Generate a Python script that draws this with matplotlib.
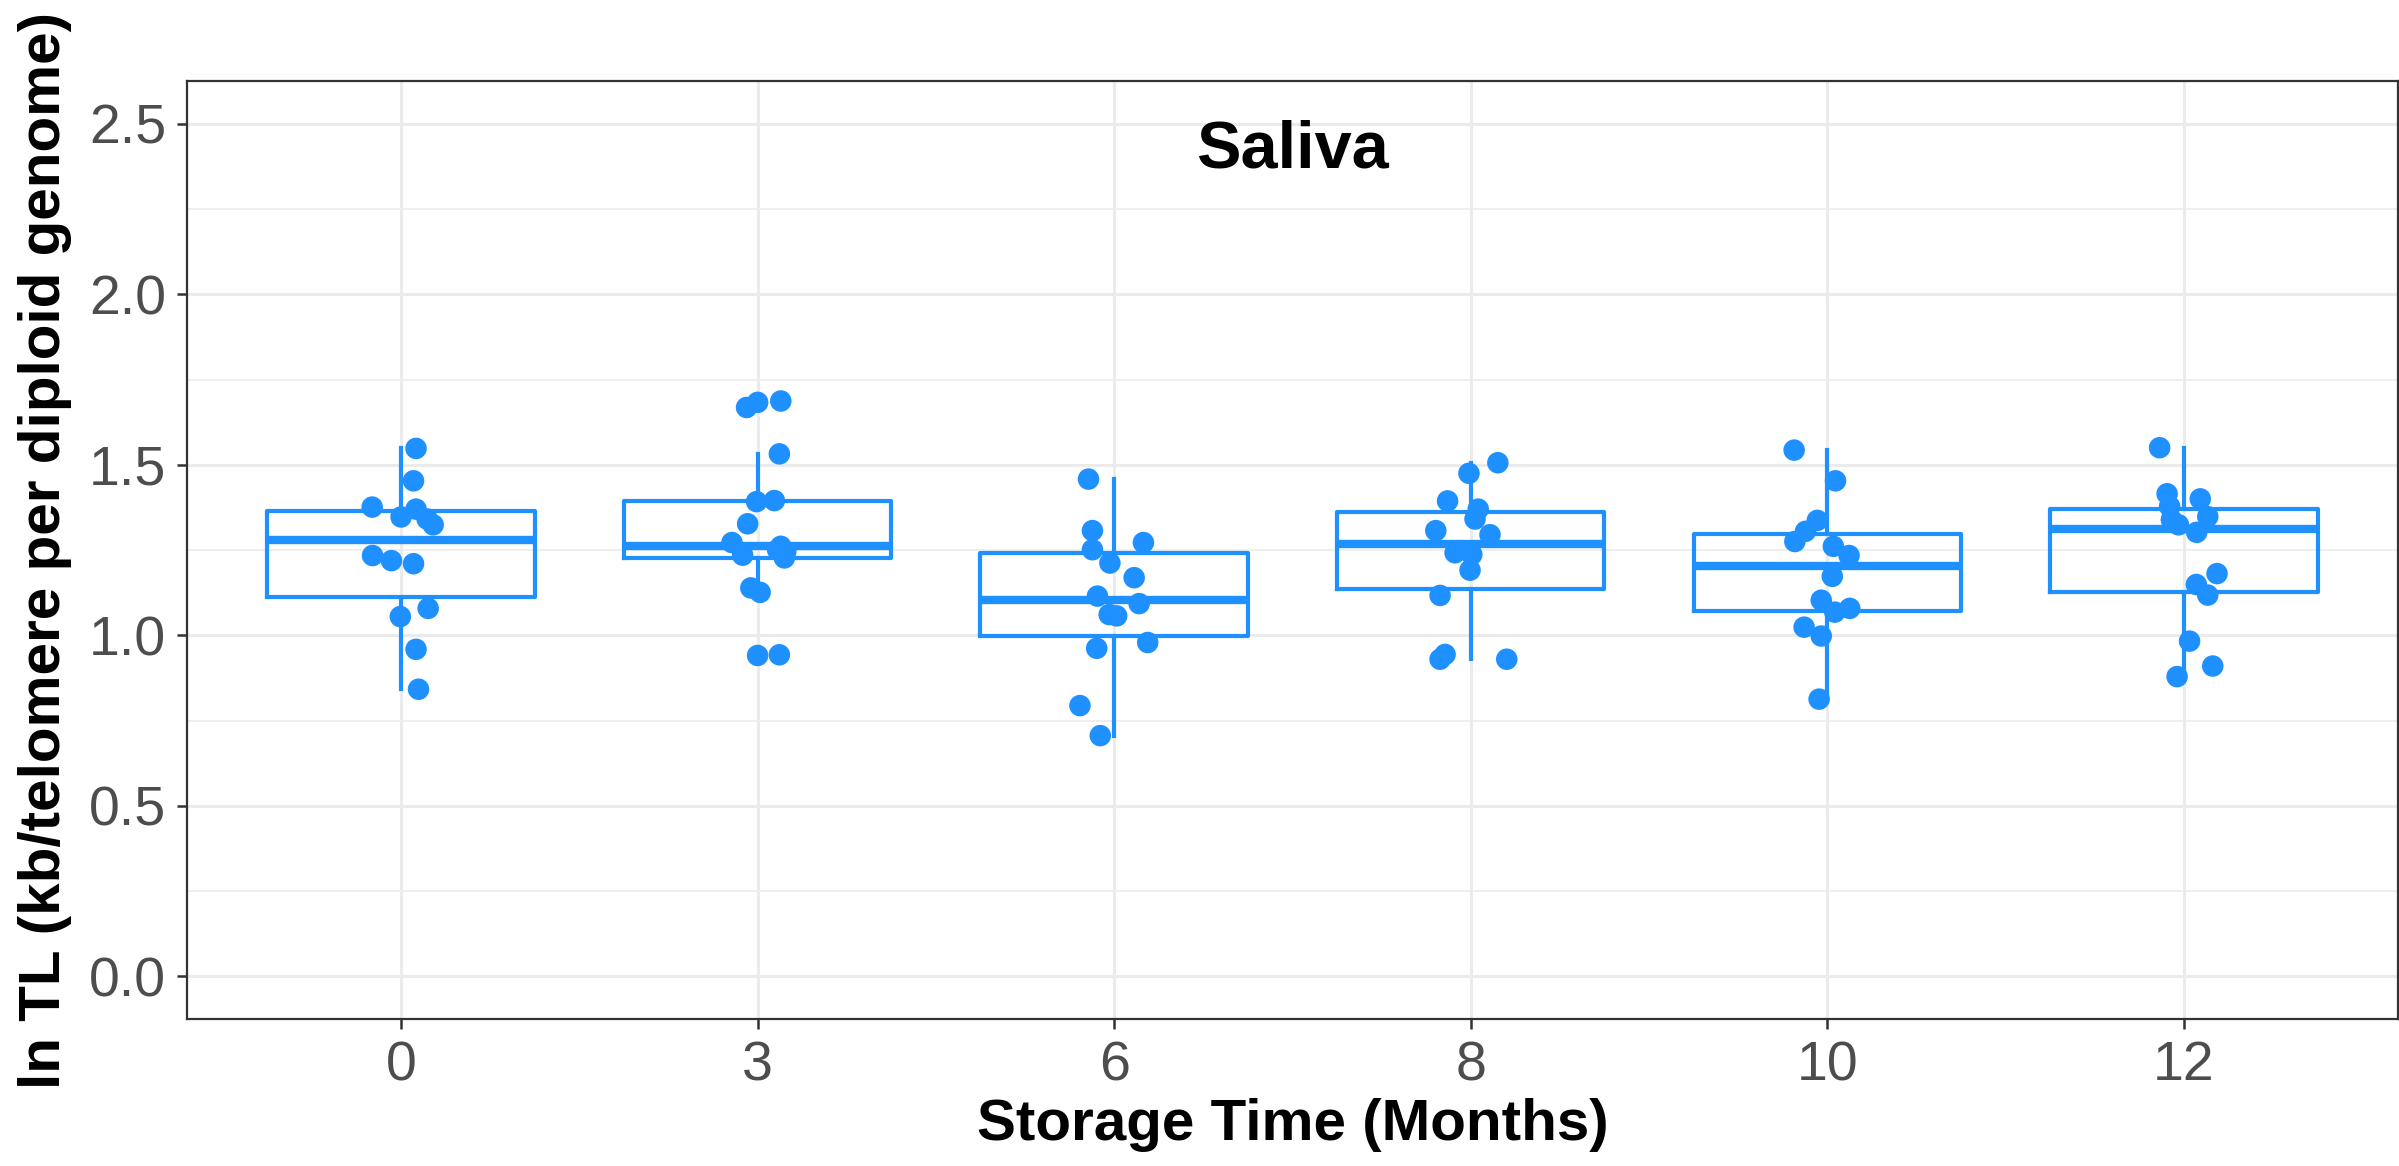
import matplotlib
matplotlib.use("Agg")
import matplotlib.pyplot as plt
from matplotlib.ticker import MultipleLocator

plt.rcParams['font.family'] = ['Liberation Sans', 'DejaVu Sans']

# ---- data ----
categories = ["0", "3", "6", "8", "10", "12"]

vals_0 = [1.548, 1.453, 1.376, 1.370, 1.347, 1.341, 1.324, 1.234, 1.219, 1.210,
          1.079, 1.055, 0.959, 0.842]
jit_0 = [0.042, 0.035, -0.081, 0.042, 0.0, 0.073, 0.090, -0.080, -0.027, 0.035,
         0.076, -0.002, 0.042, 0.049]

vals_3 = [1.687, 1.683, 1.668, 1.532, 1.392, 1.395, 1.327, 1.272, 1.261, 1.251,
          1.245, 1.235, 1.227, 1.139, 1.126, 0.941, 0.943]
jit_3 = [0.065, 0.0, -0.031, 0.061, -0.003, 0.047, -0.028, -0.072, 0.065, 0.056,
         0.079, -0.042, 0.075, -0.019, 0.007, 0.0, 0.061]

vals_6 = [1.458, 1.307, 1.272, 1.251, 1.212, 1.169, 1.115, 1.093, 1.061, 1.057,
          0.962, 0.979, 0.794, 0.706]
jit_6 = [-0.072, -0.061, 0.082, -0.061, -0.012, 0.056, -0.047, 0.070, -0.014, 0.007,
         -0.049, 0.094, -0.096, -0.039]

vals_8 = [1.506, 1.475, 1.394, 1.370, 1.341, 1.307, 1.295, 1.242, 1.237, 1.191,
          1.117, 0.944, 0.930, 0.930]
jit_8 = [0.076, -0.005, -0.065, 0.021, 0.012, -0.098, 0.054, -0.044, 0.003, -0.002,
         -0.086, -0.072, -0.086, 0.101]

vals_10 = [1.543, 1.453, 1.337, 1.305, 1.275, 1.261, 1.234, 1.173, 1.103, 1.079,
           1.068, 1.024, 0.998, 0.813]
jit_10 = [-0.093, 0.023, -0.028, -0.061, -0.091, 0.017, 0.061, 0.014, -0.017, 0.063,
          0.021, -0.065, -0.017, -0.023]

vals_12 = [1.550, 1.415, 1.400, 1.378, 1.348, 1.339, 1.324, 1.302, 1.181, 1.149,
           1.118, 0.983, 0.910, 0.879]
jit_12 = [-0.068, -0.047, 0.046, -0.040, 0.067, -0.035, -0.015, 0.036, 0.093, 0.035,
          0.067, 0.016, 0.081, -0.019]

groups = [vals_0, vals_3, vals_6, vals_8, vals_10, vals_12]
jitters = [jit_0, jit_3, jit_6, jit_8, jit_10, jit_12]

title = "Saliva"
xlabel = "Storage Time (Months)"
ylabel = "ln TL (kb/telomere per diploid genome)"
yticks = [0.0, 0.5, 1.0, 1.5, 2.0, 2.5]

# ---- style ----
blue = "#1E90FF"
grid_c = "#EBEBEB"
dark = "#333333"

fig = plt.figure(figsize=(2399 / 200, 1166 / 200), dpi=200)
ax = fig.add_axes([0.078, 0.126, 0.9215, 0.8045])

positions = list(range(1, len(categories) + 1))
ax.boxplot(groups, positions=positions, widths=0.75, whis=1.5, showfliers=False,
           patch_artist=False,
           boxprops=dict(color=blue, linewidth=1.5),
           whiskerprops=dict(color=blue, linewidth=1.5),
           capprops=dict(linewidth=0),
           medianprops=dict(color=blue, linewidth=3.0, solid_capstyle='butt'),
           zorder=3)

for p, vals, jit in zip(positions, groups, jitters):
    xs = [p + j for j in jit]
    ax.scatter(xs, vals, s=60, color=blue, edgecolors='none', zorder=4)

ax.set_xlim(0.4, len(categories) + 0.6)
ax.set_ylim(-0.125, 2.625)
ax.set_xticks(positions)
ax.set_xticklabels(categories)
ax.set_yticks(yticks)
ax.set_yticklabels([f"{v:.1f}" for v in yticks])
ax.yaxis.set_minor_locator(MultipleLocator(0.25))

ax.grid(True, which='major', axis='both', color=grid_c, linewidth=1.1, zorder=0)
ax.grid(True, which='minor', axis='y', color=grid_c, linewidth=0.6, zorder=0)
ax.set_axisbelow(True)

for s in ax.spines.values():
    s.set_color(dark)
    s.set_linewidth(0.8)

ax.tick_params(axis='both', which='major', length=3.6, width=0.9, color=dark,
               labelcolor="#4D4D4D", labelsize=20, pad=4)
ax.tick_params(axis='y', which='minor', length=0)

ax.set_xlabel(xlabel, fontsize=21, fontweight='bold', color='black', labelpad=2)
ax.set_ylabel(ylabel, fontsize=21, fontweight='bold', color='black', labelpad=6)

ax.text(0.5, 0.926, title, transform=ax.transAxes, ha='center', va='center',
        fontsize=24, fontweight='bold', color='black')

fig.savefig("out.png", dpi=200)
